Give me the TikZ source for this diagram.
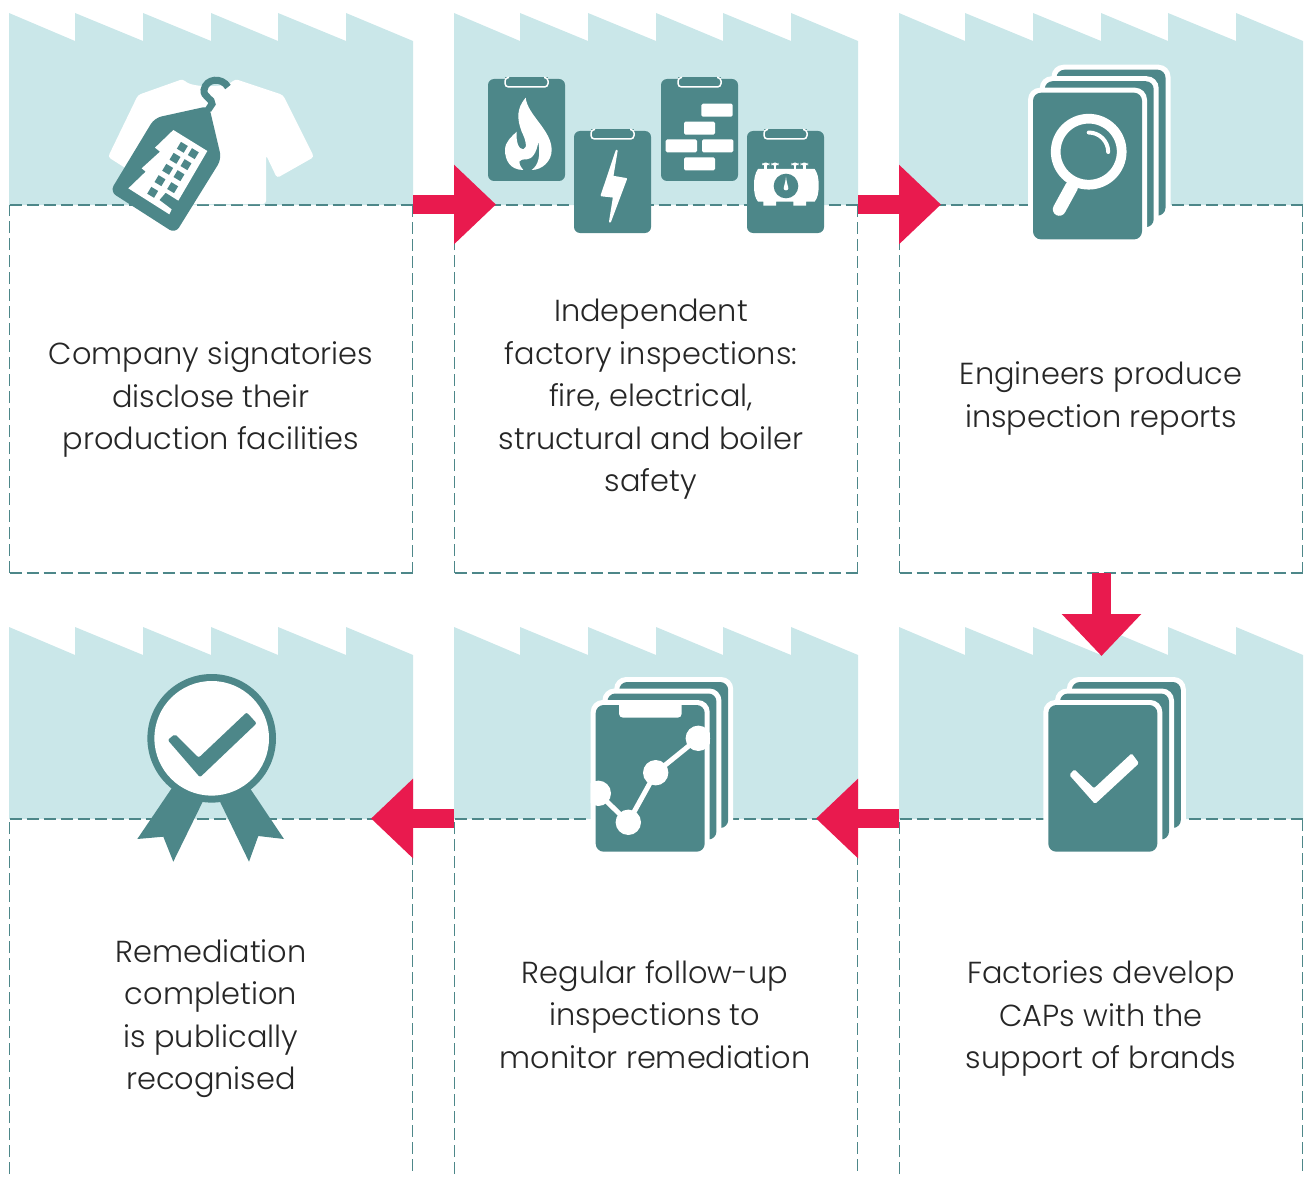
\documentclass[tikz,border=0pt]{standalone}
\usepackage{fontspec}
\setmainfont{Poppins Light}
\usetikzlibrary{arrows.meta}
\definecolor{pale}{HTML}{CAE7E9}
\definecolor{teal}{HTML}{4D8789}
\definecolor{redarrow}{HTML}{E91A4E}
\tikzset{
  dashline/.style={draw=teal,line width=1.7pt,dash pattern=on 12pt off 5pt},
  label/.style={align=center,text=black!85,font=\fontsize{30.4}{42.5}\selectfont,inner sep=0pt},
  flow/.style={draw=redarrow,line width=19pt,-{Triangle[length=42pt,width=77pt,fill=redarrow]}},
}
\newcommand{\panel}[3]{% x, top y, bottom y
  \fill[pale] (#1,#2) -- (#1+66,#2+28) -- (#1+66,#2) -- (#1+134,#2+28) -- (#1+134,#2) -- (#1+202,#2+28) -- (#1+202,#2) -- (#1+269,#2+28) -- (#1+269,#2) -- (#1+337,#2+28) -- (#1+337,#2) -- (#1+404,#2+28) -- (#1+404,#2+192) -- (#1,#2+192) -- cycle;
}
\newcommand{\card}[4]{% x1,y1,x2,y2: teal card with a white edge
  \fill[white,rounded corners=12pt] (#1-5,#2-5) rectangle (#3+5,#4+5);
  \fill[teal,rounded corners=8pt] (#1,#2) rectangle (#3,#4);
}
\newcommand{\stackcards}[2]{% front top-left
  \card{#1+23.5}{#2-23}{#1+132.5}{#2+123}
  \card{#1+11.7}{#2-11.5}{#1+120.7}{#2+134.5}
  \card{#1}{#2}{#1+109}{#2+146.7}
}
\newcommand{\clipboard}[2]{% top-left
  \fill[teal,rounded corners=6pt] (#1,#2) rectangle (#1+77,#2+102);
  \fill[teal] (#1+17,#2-1.5) rectangle (#1+60,#2+3);
  \draw[white,line width=1.5pt,rounded corners=3.5pt] (#1+21,#2-1.5) -- (#1+17,#2-1.5) -- (#1+17,#2+8) -- (#1+60,#2+8) -- (#1+60,#2-1.5) -- (#1+56,#2-1.5);
}
\newcommand{\boxedge}[4]{% left, right, line y, bottom
  \draw[dashline] (#1,#4) -- (#1,#3);
  \draw[dashline] (#1,#3) -- (#2,#3);
  \draw[dashline] (#2,#3) -- (#2,#4);
}
\begin{document}
\begin{tikzpicture}[x=1pt,y=1pt,yscale=-1]
\useasboundingbox (0,0) rectangle (1307,1180);
% panels
\panel{9}{13}{205}\panel{454}{13}{205}\panel{899}{13}{205}
\panel{9}{627}{819}\panel{454}{627}{819}\panel{899}{627}{819}
\boxedge{9.5}{412.5}{205}{573}\draw[dashline] (9.5,573)--(412.5,573);
\boxedge{454.5}{857.5}{205}{573}\draw[dashline] (454.5,573)--(857.5,573);
\boxedge{899.5}{1302.5}{205}{573}\draw[dashline] (899.5,573)--(1302.5,573);
\boxedge{9.5}{412.5}{819}{1174}
\boxedge{454.5}{857.5}{819}{1174}
\boxedge{899.5}{1302.5}{819}{1174}
% labels
\node[label] (t1) at (211,399.5) {Company signatories\\disclose their\\production facilities};
\node[label] (t2) at (651,399.5) {Independent\\factory inspections:\\fire, electrical,\\structural and boiler\\safety};
\node[label] (t3) at (1101,398.5) {Engineers produce\\inspection reports};
\node[label] (t4) at (655,1014.5) {Regular follow-up\\inspections to\\monitor remediation};
\node[label] (t5) at (211,1018.5) {Remediation\\completion\\is publically\\recognised};
\node[label] (t6) at (1101,1018.5) {Factories develop\\CAPs with the\\support of brands};
% arrows
\coordinate (a1s) at (413,204.5); \coordinate (a1e) at (496,204.5);
\coordinate (a2s) at (858,204.5); \coordinate (a2e) at (941,204.5);
\coordinate (a3s) at (1101.5,573); \coordinate (a3e) at (1101.5,656);
\coordinate (a4s) at (899,818.5); \coordinate (a4e) at (816,818.5);
\coordinate (a5s) at (454,818.5); \coordinate (a5e) at (371,818.5);
\draw[flow] (a1s) -- (a1e);
\draw[flow] (a2s) -- (a2e);
\draw[flow] (a3s) -- (a3e);
\draw[flow] (a4s) -- (a4e);
\draw[flow] (a5s) -- (a5e);
% shirt
\fill[white,rounded corners=3pt] (183,79) .. controls (192,88) and (226,88) .. (235,79) -- (283,95) -- (314,157) -- (277,178) -- (266,155) -- (266,204) -- (152,204) -- (152,155) -- (141,178) -- (108,157) -- (138,95) -- cycle;
% tag
\fill[teal,rounded corners=7pt] (209,106) -- (154.5,118) -- (110,191.6) -- (175.3,233.5) -- (221.5,159) -- cycle;
\draw[teal,line width=7pt,line cap=butt] (228,87) .. controls (222,77) and (206,78) .. (204,90) .. controls (203,97) and (213,99) .. (212,104) -- (208,110);
\begin{scope}[shift={(125,120)},scale=1/3]
  \fill[white] (145,30) -- (247,93) -- (160,242) -- (122,218) -- (103,240) -- (140,268) -- (133,283) -- (10,205) -- (62,155) -- (50,145) -- (105,95) -- (90,83) -- cycle;
  \foreach \c in {(172,82),(205,101),(150,115),(183,134),(128,148),(162,167),(105,182),(143,203),(83,217)}
    \fill[teal,shift={\c},rotate=31] (-12,-12) rectangle (12,12);
\end{scope}
% clipboards
\clipboard{488}{79}
\clipboard{574}{131}
\clipboard{661}{79}
\clipboard{747}{131}
\begin{scope}[shift={(410,60)},scale=1/3]
  % flame
  \fill[white] (347,113) .. controls (352,165) and (425,210) .. (425,270) .. controls (425,305) and (395,330) .. (365,330) .. controls (385,315) and (392,290) .. (385,245) .. controls (380,280) and (365,298) .. (350,298) .. controls (325,298) and (320,305) .. (340,330) .. controls (300,330) and (285,300) .. (285,270) .. controls (285,245) and (305,230) .. (320,215) .. controls (318,245) and (325,268) .. (340,268) .. controls (355,265) and (345,235) .. (335,215) .. controls (320,175) and (320,145) .. (347,113) -- cycle;
  % bolt
  \fill[white,draw=white,line width=2pt,line join=round] (620,272) -- (575,406) -- (612,410) -- (600,485) -- (648,357) -- (607,350) -- cycle;
  % bricks
  \foreach \a/\b/\c/\d in {874/131/968/170,822/185/915/224,767/238/861/277,876/238/970/277,822/292/915/331}
    \fill[white,rounded corners=1.5pt] (\a,\b) rectangle (\c,\d);
\end{scope}
% tank
\begin{scope}[shift={(750,155)},scale=1/3]
  \fill[white] (24,42) -- (194,42) .. controls (203,55) and (206,70) .. (206,90) .. controls (206,115) and (203,128) .. (194,140) -- (168,140) -- (168,152) -- (130,152) -- (130,140) -- (78,140) -- (78,152) -- (40,152) -- (40,140) -- (24,140) .. controls (15,128) and (12,115) .. (12,90) .. controls (12,70) and (15,55) .. (24,42) -- cycle;
  \foreach \v in {47,75,135,163} {
    \fill[white] (\v-4,25) rectangle (\v+4,44);
    \fill[white,rounded corners=3pt] (\v-11,23) rectangle (\v+11,32);
  }
  \fill[teal] (108,93) circle[radius=37];
  \fill[white] (108,65) .. controls (106,85) and (101,95) .. (101,100) .. controls (101,108) and (115,108) .. (115,100) .. controls (115,95) and (110,85) .. (108,65) -- cycle;
\end{scope}
% report stack
\stackcards{1033}{92.7}
\draw[white,line width=9.7pt] (1088.7,151.7) circle[radius=33];
\draw[white,line width=13pt,line cap=round] (1071.5,187) -- (1059.3,209.3);
\draw[white,line width=4pt,line cap=round] (1088.7,132.5) arc[start angle=-90,end angle=0,radius=19.5];
% CAP stack
\stackcards{1048.3}{705}
\fill[white,rounded corners=1.5pt] (1069.3,775) -- (1074.3,769.3) -- (1094,788.3) -- (1131.7,753.3) -- (1139,763.3) -- (1095,804) -- cycle;
% follow-up stack
\stackcards{595.7}{705}
\begin{scope}
  \clip[rounded corners=12pt] (590.7,700) rectangle (710,856.7);
  \fill[white,rounded corners=4pt] (619,700) rectangle (681.7,717.7);
  \draw[white,line width=5pt] (598.3,793.3) -- (628.3,822.3) -- (655.7,772.7) -- (698.3,738.3);
  \foreach \p in {(598.3,793.3),(628.3,822.3),(655.7,772.7),(698.3,738.3)}
    \fill[white] \p circle[radius=12.7];
\end{scope}
% rosette
\fill[teal] (171.7,788.3) -- (202.7,801.7) -- (173.3,861.7) -- (163.3,836.7) -- (137.3,839) -- cycle;
\fill[teal] (250,788.3) -- (220,801.7) -- (249,861.7) -- (258.3,836) -- (284,839) -- cycle;
\fill[teal] (211.7,738.3) circle[radius=64.3];
\fill[white] (211.7,738.3) circle[radius=57.3];
\fill[teal,rounded corners=2pt] (167.7,740) -- (175,734) -- (198.7,757.7) -- (246.7,712.3) -- (256.7,723.3) -- (200,777.3) -- cycle;
\end{tikzpicture}
\end{document}
